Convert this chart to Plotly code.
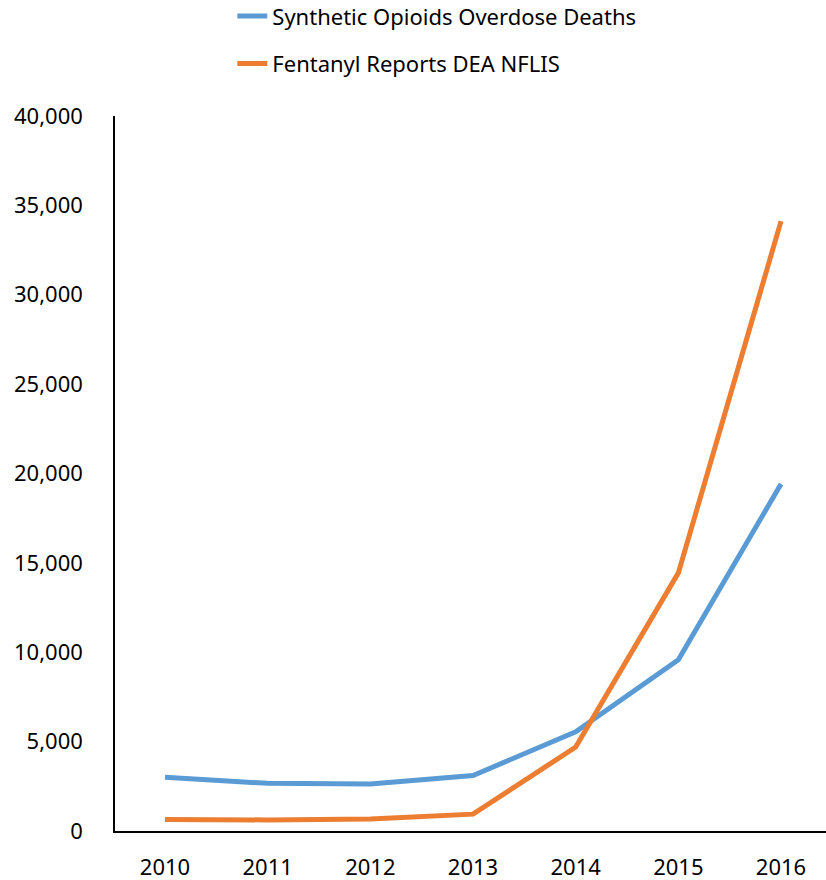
import plotly.graph_objects as go

years = ["2010", "2011", "2012", "2013", "2014", "2015", "2016"]
opioid_deaths = [3007, 2666, 2628, 3105, 5544, 9580, 19413]
fentanyl_reports = [650, 618, 668, 942, 4697, 14440, 34119]
y_ticks = [0, 5000, 10000, 15000, 20000, 25000, 30000, 35000, 40000]

FONT = "Liberation Sans Narrow, Noto Sans, sans-serif"

fig = go.Figure()

fig.add_trace(go.Scatter(
    x=years, y=opioid_deaths, mode="lines",
    name="Synthetic Opioids Overdose Deaths",
    legendgroup="a",
    line=dict(color="#5B9BD5", width=5),
))
fig.add_trace(go.Scatter(
    x=years, y=fentanyl_reports, mode="lines",
    name="Fentanyl Reports DEA NFLIS",
    legendgroup="b",
    line=dict(color="#ED7D31", width=5),
))

fig.update_layout(
    width=826, height=880,
    margin=dict(l=115, r=0, t=116, b=49, autoexpand=False),
    paper_bgcolor="white", plot_bgcolor="white",
    font=dict(family=FONT, size=22, color="#000000"),
    showlegend=True,
    legend=dict(
        orientation="v", x=0.165, y=1.169, xanchor="left", yanchor="top",
        traceorder="grouped", tracegroupgap=16,
        font=dict(family=FONT, size=22),
    ),
    xaxis=dict(
        type="category", range=[-0.487, 6.438],
        showline=True, linecolor="black", linewidth=1.5,
        showgrid=False, zeroline=False,
        ticks="outside", ticklen=16, tickcolor="rgba(0,0,0,0)",
        tickfont=dict(family=FONT, size=22),
    ),
    yaxis=dict(
        range=[0, 40000], tickvals=y_ticks, tickformat=",d",
        showline=True, linecolor="black", linewidth=1.5,
        showgrid=False, zeroline=False,
        ticks="outside", ticklen=26, tickcolor="rgba(0,0,0,0)",
        tickfont=dict(family=FONT, size=22),
    ),
)

# page body has a default 8px margin; drop it so the figure fills the window
fig.write_html(
    "out.html",
    config={"displayModeBar": False},
    post_script="document.body.style.margin='0';",
)
